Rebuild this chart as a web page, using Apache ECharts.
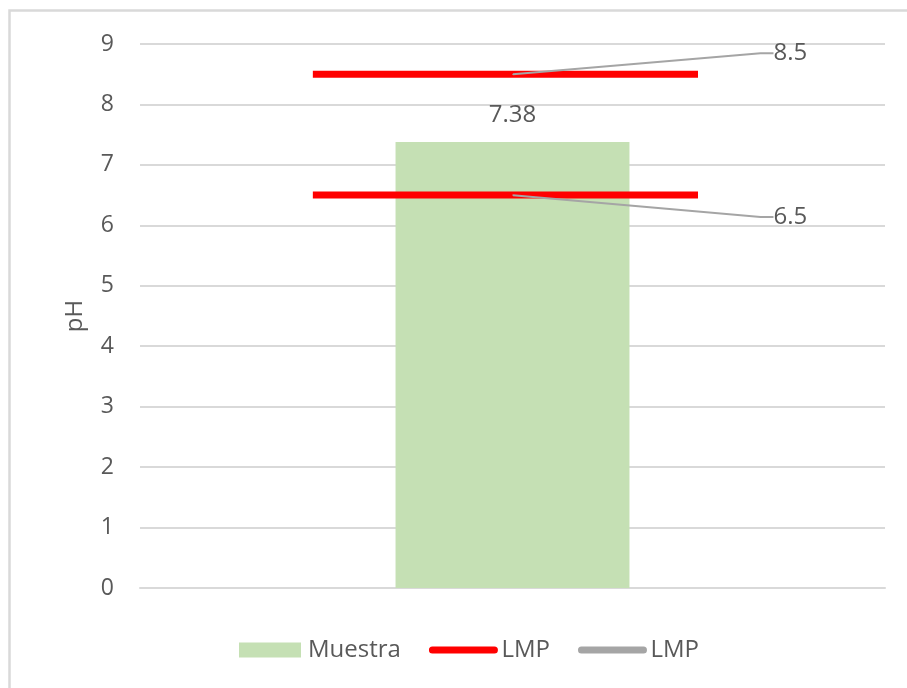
<!DOCTYPE html>
<html>
<head>
<meta charset="utf-8">
<script src="https://cdn.jsdelivr.net/npm/echarts@6/dist/echarts.min.js"></script>
<style>
html, body { margin: 0; padding: 0; background: #fff; }
#chart { width: 907px; height: 688px; }
</style>
</head>
<body>
<div id="chart"></div>
<script>
// data
const categories = [''];
const muestra = [7.38];
const lmpValues = [8.5, 6.5];
const yTicks = [0, 9, 1]; // min, max, interval

// where the limit lines run along the hidden 0-100 x axis
const lineFrom = 23.2;
const lineTo = 74.9;
const lineMid = 50;

const textColor = '#595959';
const font = 'Open Sans';

const chart = echarts.init(document.getElementById('chart'));

const redSeries = lmpValues.map(v => ({
    name: 'LMP',
    type: 'line',
    xAxisIndex: 1,
    symbol: 'none',
    lineStyle: { color: '#ff0000', width: 7 },
    itemStyle: { color: '#ff0000' },
    silent: true,
    z: 3,
    data: [[lineFrom, v], [lineTo, v]]
}));

const option = {
    textStyle: { fontFamily: font },
    graphic: [{
        type: 'rect',
        shape: { x: 9.5, y: 10.5, width: 1200, height: 1200 },
        style: { fill: 'none', stroke: '#d9d9d9', lineWidth: 2.5 },
        silent: true
    }],
    grid: { left: 140, right: 22, top: 44, bottom: 100 },
    legend: {
        left: 234,
        top: 633,
        itemWidth: 62,
        itemHeight: 15,
        itemGap: 28,
        textStyle: { color: textColor, fontSize: 24, fontFamily: font, padding: [0, 0, 0, 2] },
        formatter: n => n.trim(),
        data: [
            { name: 'Muestra', icon: 'rect' },
            { name: 'LMP', lineStyle: { color: '#ff0000', width: 7, cap: 'round', opacity: 1 }, itemStyle: { opacity: 0 } },
            { name: 'LMP ', lineStyle: { color: '#a5a5a5', width: 7, cap: 'round', opacity: 1 }, itemStyle: { opacity: 0 } }
        ]
    },
    xAxis: [
        {
            type: 'category',
            data: categories,
            axisLine: { show: true, lineStyle: { color: '#d9d9d9', width: 2 } },
            axisTick: { show: false },
            axisLabel: { show: false }
        },
        {
            type: 'value',
            min: 0,
            max: 100,
            show: false
        }
    ],
    yAxis: {
        type: 'value',
        min: yTicks[0],
        max: yTicks[1],
        interval: yTicks[2],
        name: 'pH',
        nameLocation: 'middle',
        nameRotate: 90,
        nameGap: 53,
        nameTextStyle: { color: textColor, fontSize: 24, fontFamily: font },
        axisLine: { show: false },
        axisTick: { show: false },
        axisLabel: { color: textColor, fontSize: 23, margin: 26, fontFamily: font },
        splitLine: { lineStyle: { color: '#d9d9d9', width: 2 } }
    },
    series: [
        {
            name: 'Muestra',
            type: 'bar',
            barWidth: '31.4%',
            itemStyle: { color: '#c5e0b4' },
            label: {
                show: true,
                position: 'top',
                distance: 15,
                color: textColor,
                fontSize: 24,
                fontFamily: font
            },
            silent: true,
            data: muestra
        },
        ...redSeries,
        {
            name: 'LMP ',
            type: 'line',
            xAxisIndex: 1,
            symbol: 'circle',
            symbolSize: 1,
            itemStyle: { color: '#a5a5a5' },
            lineStyle: { width: 0 },
            z: 4,
            silent: true,
            label: {
                show: true,
                formatter: p => p.value[1],
                color: textColor,
                fontSize: 24,
                fontFamily: font,
                padding: [0, 0, 0, 10]
            },
            labelLine: {
                show: true,
                length2: 13,
                lineStyle: { color: '#a5a5a5', width: 2 }
            },
            labelLayout: p => ({
                x: p.rect.x + p.rect.width / 2 + 251,
                y: p.rect.y + p.rect.height / 2 + (p.dataIndex === 0 ? -21 : 22),
                align: 'left',
                verticalAlign: 'middle'
            }),
            data: lmpValues.map(v => [lineMid, v])
        }
    ]
};

chart.setOption(option);
</script>
</body>
</html>
